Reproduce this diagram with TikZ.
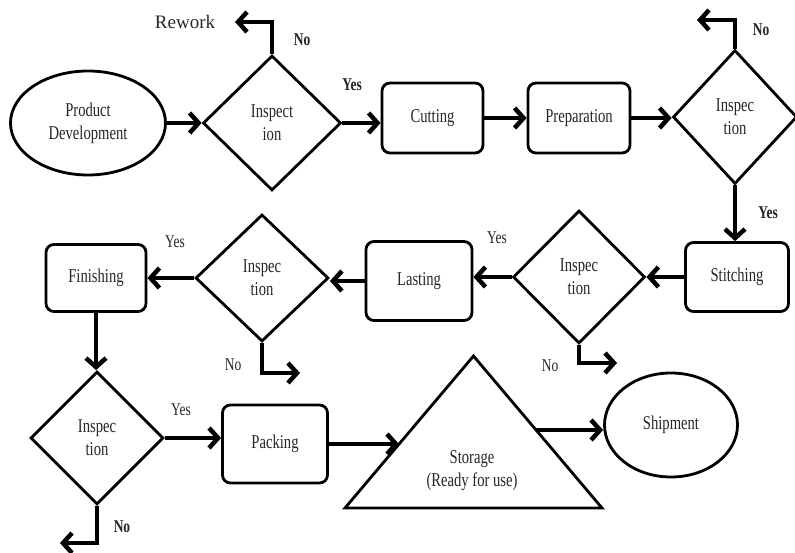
\documentclass[tikz,border=0pt]{standalone}
\usepackage{fontspec}
\setmainfont{Liberation Serif}
\newfontfamily\condf[FakeStretch=0.75]{Liberation Serif}
\usetikzlibrary{shapes.geometric,arrows.meta}
\begin{document}
\begin{tikzpicture}[x=1pt,y=-1pt,
  txt/.style={font=\condf\fontsize{19.5}{23}\selectfont, align=center, text=black!85},
  box/.style={txt, draw, line width=2.8pt, rounded corners=8pt, inner sep=0pt},
  dia/.style={txt, draw, diamond, line width=2.8pt, inner sep=0pt},
  ell/.style={txt, draw, ellipse, line width=2.8pt, inner sep=0pt},
  arr/.style={line width=4.5pt, -{Straight Barb[length=9pt,width=20pt]}},
  lblb/.style={font=\condf\bfseries\fontsize{18}{20}\selectfont, text=black!85},
  lblr/.style={font=\condf\fontsize{18}{20}\selectfont, text=black!85}]
\useasboundingbox (0,0) rectangle (795,553);

% row 1
\node[ell, minimum width=155pt, minimum height=104pt] (pd) at (88,123) {Product\\Development};
\node[dia, minimum width=138pt, minimum height=135pt] (d1) at (272,123) {Inspect\\ion};
\node[box, minimum width=101pt, minimum height=70pt] (cut) at (432.5,118) {Cutting};
\node[box, minimum width=102pt, minimum height=70pt] (prep) at (579,118) {Preparation};
\node[dia, minimum width=124pt, minimum height=134pt] (d2) at (735,117) {Inspec\\tion};

% row 2
\node[box, minimum width=103pt, minimum height=69pt] (stitch) at (737,277) {Stitching};
\node[dia, minimum width=132pt, minimum height=133pt] (d3) at (579,277) {Inspec\\tion};
\node[box, minimum width=106pt, minimum height=79pt] (last) at (419,281) {Lasting};
\node[dia, minimum width=133pt, minimum height=127pt] (d4) at (262,278) {Inspec\\tion};
\node[box, minimum width=100pt, minimum height=67pt] (fin) at (96,278) {Finishing};

% row 3
\node[dia, minimum width=133pt, minimum height=133pt] (d5) at (97,438) {Inspec\\tion};
\node[box, minimum width=105pt, minimum height=78pt] (pack) at (275,444) {Packing};
\draw[line width=2.8pt, line join=miter] (345,508) -- (473.5,356) -- (602,508) -- cycle;
\node[txt] (stor) at (472,471) {Storage\\(Ready for use)};
\node[ell, minimum width=133pt, minimum height=104pt] (ship) at (671,425) {Shipment};

% free-end coordinates
\coordinate (rw) at (235,22);
\coordinate (n2) at (697,20);
\coordinate (n3) at (617,363);
\coordinate (n4) at (300,373);
\coordinate (n5) at (60,543);
\coordinate (stoL) at (399,444);
\coordinate (stoR) at (536,430);

% connectors
\draw[arr] (pd) -- (d1);
\draw[arr] (d1.east) -- (d1.east -| cut.west);
\draw[arr] (d1.north) |- (rw);
\draw[arr] (cut) -- (prep);
\draw[arr] (prep.east) -- (prep.east -| d2.west);
\draw[arr] (d2.north) |- (n2);
\draw[arr] (d2.south) -- (d2.south |- stitch.north);
\draw[arr] (stitch.west) -- (stitch.west -| d3.east);
\draw[arr] (d3.west) -- (d3.west -| last.east);
\draw[arr] (d3.south) |- (n3);
\draw[arr] (last.west) -- (last.west -| d4.east);
\draw[arr] (d4.west) -- (d4.west -| fin.east);
\draw[arr] (d4.south) |- (n4);
\draw[arr] (fin.south) -- (fin.south |- d5.north);
\draw[arr] (d5.south) |- (n5);
\draw[arr] (d5.east) -- (d5.east -| pack.west);
\draw[arr] (pack.east) -- (stoL);
\draw[arr] (stoR) -- (stoR -| ship.west);

% labels
\node[font=\fontsize{19}{22}\selectfont, text=black!85] (rwl) at (185,22) {Rework};
\node[lblb] (l1) at (302,40) {No};
\node[lblb] (l2) at (352,85) {Yes};
\node[lblb] (l3) at (761,30) {No};
\node[lblb] (l4) at (768,213) {Yes};
\node[lblr] (l5) at (497,238) {Yes};
\node[lblr] (l6) at (550,366) {No};
\node[lblr] (l7) at (175,242) {Yes};
\node[lblr] (l8) at (233,365) {No};
\node[lblr] (l9) at (181,410) {Yes};
\node[lblb] (l10) at (122,527) {No};
\end{tikzpicture}
\end{document}
